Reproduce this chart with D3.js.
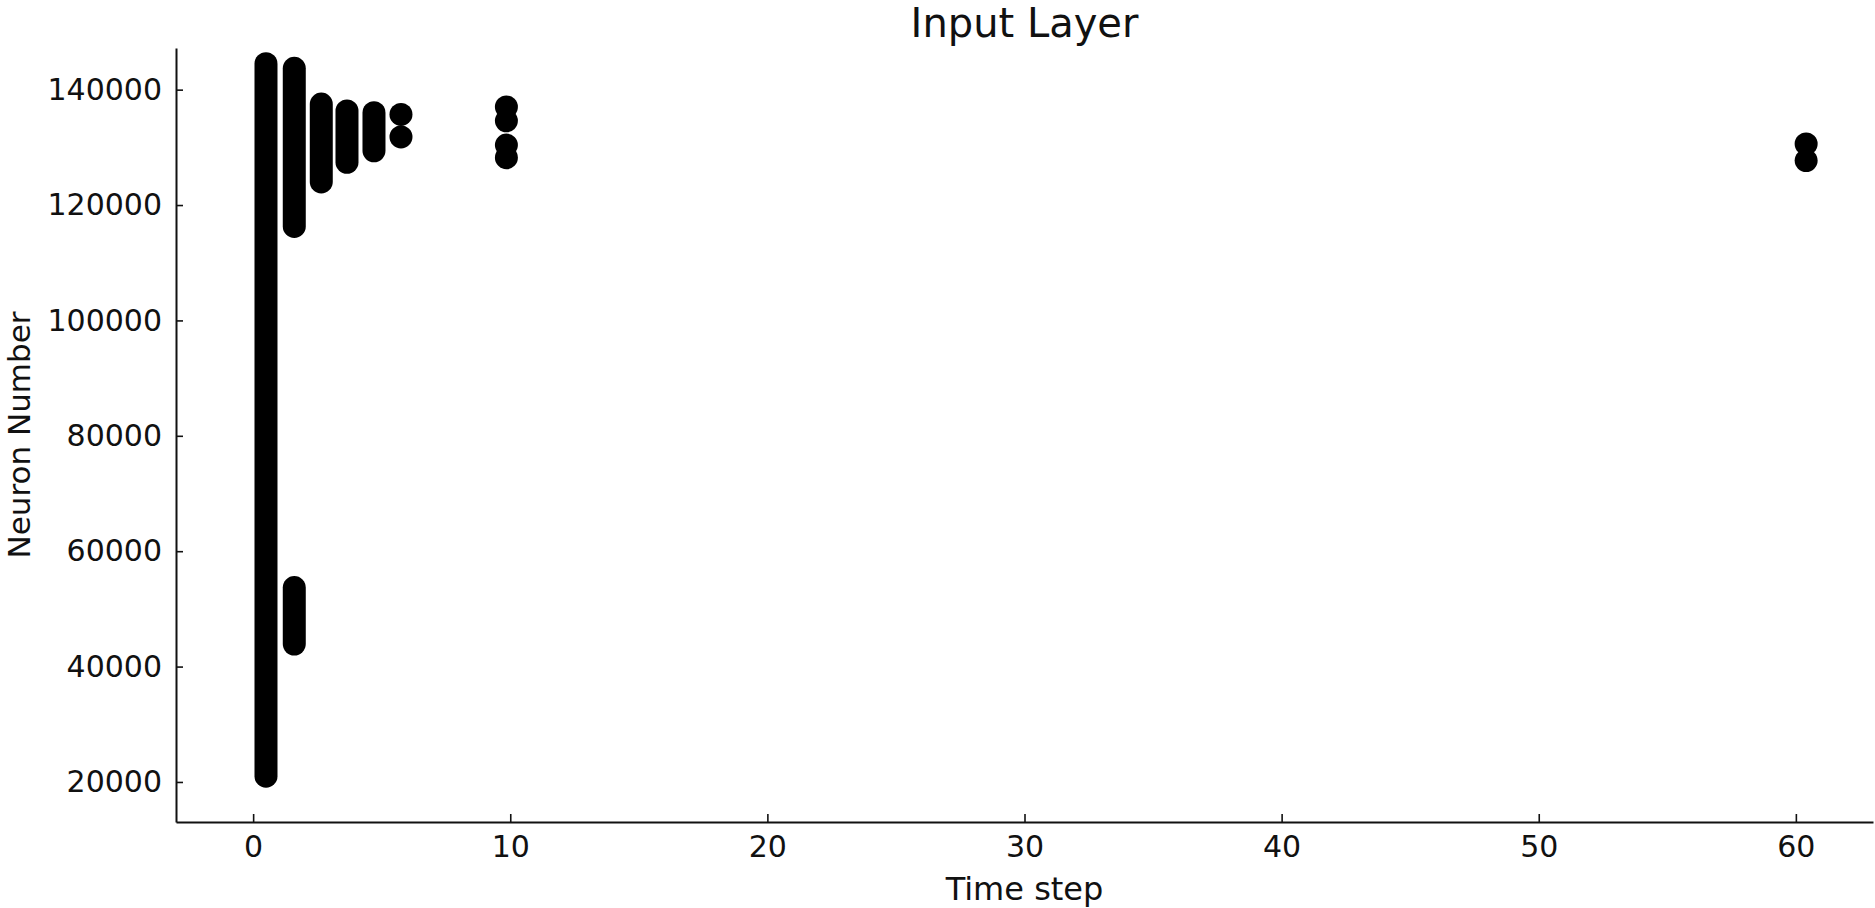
<!DOCTYPE html>
<html>
<head>
<meta charset="utf-8">
<script src="https://cdn.jsdelivr.net/npm/d3@7"></script>
<style>
  html, body { margin: 0; padding: 0; background: #fff; }
  svg { display: block; font-family: "DejaVu Sans", sans-serif; }
</style>
</head>
<body>
<svg id="chart" width="1875" height="908"></svg>
<script>
// ---- data ----
const title = "Input Layer";
const xLabel = "Time step";
const yLabel = "Neuron Number";
const xTicks = [0, 10, 20, 30, 40, 50, 60];
const yTicks = [20000, 40000, 60000, 80000, 100000, 120000, 140000];

// dense spike runs (continuous columns of spikes)
const runTime  = [0.5,    1.6,    1.6,   2.65,   3.65,   4.7];
const runStart = [21000,  116300, 43900, 124000, 127400, 129400];
const runEnd   = [144500, 143700, 53700, 137500, 136300, 136000];

// isolated spikes
const spikeTime   = [5.75,   5.75,   9.85,   9.85,   9.85,   9.85,   60.4,   60.4];
const spikeNeuron = [135700, 131800, 137000, 134600, 130400, 128200, 130600, 127700];

// ---- layout ----
const M = { left: 176, right: 1873, top: 48, bottom: 822 };
const r = 11.5;

const svg = d3.select("#chart");
const x = d3.scaleLinear().domain([-3, 63]).range([M.left, M.right]);
const y = d3.scaleLinear().domain([13060, 147220]).range([M.bottom, M.top]);

// runs as round-capped thick strokes
const runs = runTime.map((t, i) => ({t, a: runStart[i], b: runEnd[i]}));
svg.append("g").selectAll("line").data(runs).join("line")
  .attr("x1", d => x(d.t)).attr("x2", d => x(d.t))
  .attr("y1", d => y(d.a)).attr("y2", d => y(d.b))
  .attr("stroke", "#000").attr("stroke-width", 2 * r)
  .attr("stroke-linecap", "round");

// isolated spikes
const spikes = spikeTime.map((t, i) => ({t, n: spikeNeuron[i]}));
svg.append("g").selectAll("circle").data(spikes).join("circle")
  .attr("cx", d => x(d.t)).attr("cy", d => y(d.n)).attr("r", r)
  .attr("fill", "#000");

// axes
const xAxis = d3.axisBottom(x).tickValues(xTicks).tickFormat(d3.format("d"))
  .tickSizeInner(-8).tickSizeOuter(0).tickPadding(13.5);
const yAxis = d3.axisLeft(y).tickValues(yTicks).tickFormat(d3.format("d"))
  .tickSizeInner(-7).tickSizeOuter(0).tickPadding(14);

const gx = svg.append("g").attr("transform", `translate(0,${M.bottom})`).call(xAxis);
const gy = svg.append("g").attr("transform", `translate(${M.left},0)`).call(yAxis);

[gx, gy].forEach(g => {
  g.select(".domain").attr("stroke", "#111").attr("stroke-width", 2);
  g.selectAll(".tick line").attr("stroke", "#111").attr("stroke-width", 1.6);
  g.selectAll(".tick text").attr("fill", "#111")
    .style("font-family", "'DejaVu Sans', sans-serif").style("font-size", "30px");
});

// title and labels
svg.append("text").attr("x", (M.left + M.right) / 2).attr("y", 37)
  .attr("text-anchor", "middle").attr("fill", "#111")
  .style("font-size", "40px").text(title);

svg.append("text").attr("x", (M.left + M.right) / 2).attr("y", 900)
  .attr("text-anchor", "middle").attr("fill", "#111")
  .style("font-size", "32px").text(xLabel);

svg.append("text")
  .attr("transform", `translate(30,${(M.top + M.bottom) / 2}) rotate(-90)`)
  .attr("text-anchor", "middle").attr("fill", "#111")
  .style("font-size", "31px").text(yLabel);
</script>
</body>
</html>
